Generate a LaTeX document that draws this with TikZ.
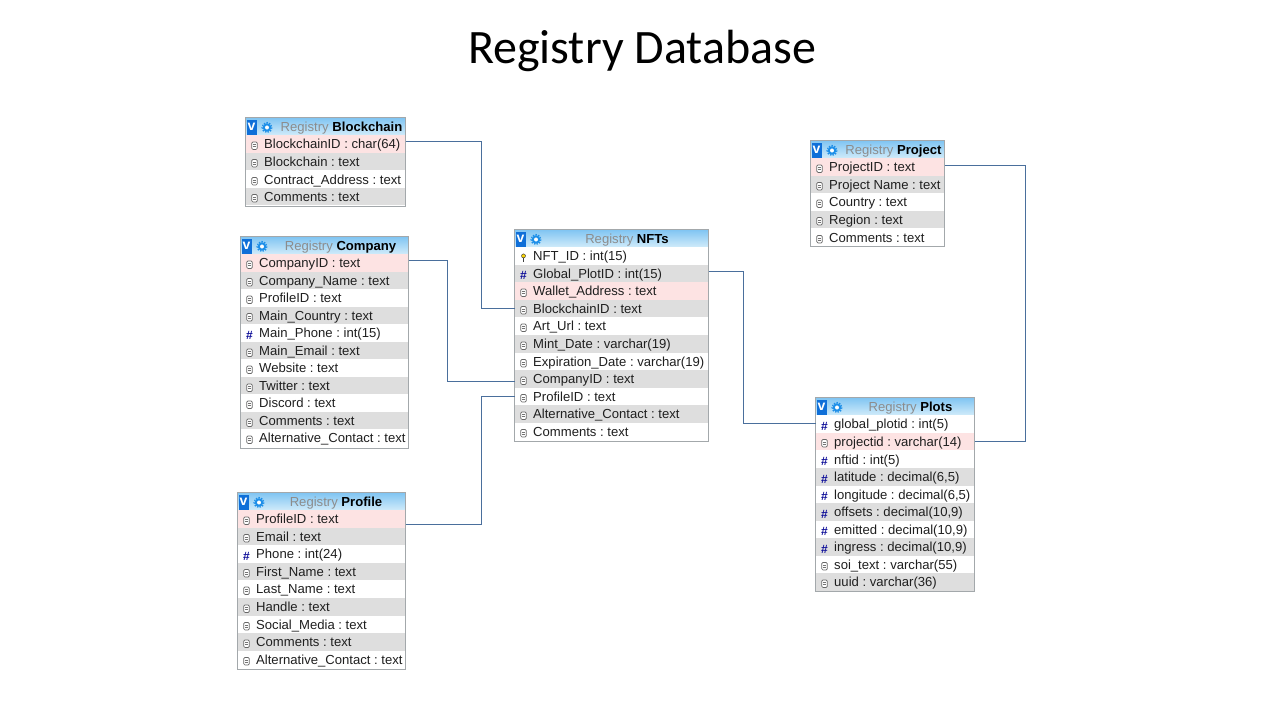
\documentclass[tikz,border=0pt]{standalone}
\usepackage{fontspec}
\setmainfont{Liberation Sans}
\newfontfamily\titlefont{Carlito}
\usetikzlibrary{calc}
\frenchspacing
\definecolor{rowgrey}{HTML}{DEDEDE}
\definecolor{rowpink}{HTML}{FDE3E3}
\definecolor{rowwhite}{HTML}{FFFFFF}
\definecolor{edgegrey}{HTML}{A3A8AB}
\definecolor{linkblue}{HTML}{4A6F9C}
\definecolor{headtop}{HTML}{7FC4F2}
\definecolor{headbot}{HTML}{D2ECFA}
\definecolor{iconblue}{HTML}{1E8FE8}
\definecolor{vblue}{HTML}{0F6FD8}
\definecolor{navyhash}{HTML}{10109A}
\tikzset{
 x=1pt,y=-1pt,
 rowtext/.style={anchor=base west,inner sep=0pt,font=\fontsize{13.1}{14}\selectfont,text=black!88},
 titletext/.style={anchor=base,inner sep=0pt,font=\fontsize{13.1}{14}\selectfont},
 link/.style={draw=linkblue,line width=1pt},
 frame/.style={draw=edgegrey,line width=1pt},
 tabletitle/.style={inner sep=0pt,font=\titlefont\fontsize{48}{56}\selectfont,text=black},
}
% icons, drawn at (#1)
\newcommand{\iconplain}[1]{\draw[black!60,line width=0.7pt,fill=white,rounded corners=1.2pt] ($(#1)+(-2.8,-3.5)$) rectangle ($(#1)+(2.8,3.9)$);
 \draw[black!55,line width=0.5pt] ($(#1)+(-1.4,-0.9)$)--($(#1)+(1.4,-0.9)$) ($(#1)+(-1.4,1.2)$)--($(#1)+(1.4,1.2)$);}
\newcommand{\iconhash}[1]{\node[inner sep=0pt,text=navyhash,font=\bfseries\fontsize{12}{12}\selectfont] at ($(#1)+(0,0.8)$) {\#};}
\newcommand{\iconkey}[1]{\draw[black!75,fill=yellow!75!orange,line width=0.5pt] ($(#1)+(0,-1.6)$) circle (2);
 \draw[black!75,line width=1pt] ($(#1)+(0,0)$)--($(#1)+(0,4)$);}
% \dbtable{id}{x1}{x2}{top}{bottom}{title x}{bold name}{rows}
% rows: number/y/icon/colour/text
\newcommand{\dbtable}[8]{
 \shade[top color=headtop,bottom color=headbot] (#2,#4) rectangle (#3,#4+18);
 \fill[vblue] (#2+1,#4+2) rectangle (#2+11,#4+17);
 \node[inner sep=0pt,text=white,font=\bfseries\fontsize{14}{14}\selectfont] at (#2+6,#4+9) {v};
 \draw[iconblue,line width=2pt,fill=white] (#2+21.5,#4+10) circle (3.2);
 \draw[iconblue,line width=1.2pt,dash pattern=on 1.4pt off 1.4pt] (#2+21.5,#4+10) circle (5);
 \node[titletext] (#1-title) at (#6,#4+14) {\textcolor{black!45}{Registry} \textbf{#7}};
 \foreach \rn/\ry/\ric/\rc/\rt in {#8} {
  \fill[\rc] (#2+0.5,\ry-8.8) rectangle (#3-0.5,\ry+8.8);
 }
 \foreach \rn/\ry/\ric/\rc/\rt in {#8} {
  \coordinate (#1-icon-\rn) at (#2+9,\ry+1.5);
  \csname icon\ric\endcsname{#1-icon-\rn}
  \node[rowtext] (#1-\rn) at (#2+18.5,\ry+4.7) {\rt};
  \coordinate (#1-w\rn) at (#2,\ry);
  \coordinate (#1-e\rn) at (#3,\ry);
 }
 \draw[frame] (#2,#4) rectangle (#3,#5);
}
\begin{document}
\begin{tikzpicture}
\useasboundingbox (0,0) rectangle (1280,720);
\fill[white] (0,0) rectangle (1280,720);
\node[tabletitle] (heading) at (642,51) {Registry Database};

\dbtable{bc}{245.5}{405.5}{117.5}{206.5}{341.5}{Blockchain}{
 1/144/plain/rowpink/{BlockchainID : char(64)},
 2/161.5/plain/rowgrey/{Blockchain : text},
 3/179.5/plain/rowwhite/{Contract\_Address : text},
 4/196.5/plain/rowgrey/{Comments : text}}

\dbtable{co}{240.5}{408.5}{236.5}{448.5}{340.5}{Company}{
 1/263/plain/rowpink/{CompanyID : text},
 2/280.5/plain/rowgrey/{Company\_Name : text},
 3/298/plain/rowwhite/{ProfileID : text},
 4/315.5/plain/rowgrey/{Main\_Country : text},
 5/333/hash/rowwhite/{Main\_Phone : int(15)},
 6/351/plain/rowgrey/{Main\_Email : text},
 7/368/plain/rowwhite/{Website : text},
 8/386/plain/rowgrey/{Twitter : text},
 9/403/plain/rowwhite/{Discord : text},
 10/421/plain/rowgrey/{Comments : text},
 11/438/plain/rowwhite/{Alternative\_Contact : text}}

\dbtable{pr}{237.5}{405.5}{492.5}{669.5}{336}{Profile}{
 1/519/plain/rowpink/{ProfileID : text},
 2/536.5/plain/rowgrey/{Email : text},
 3/554/hash/rowwhite/{Phone : int(24)},
 4/571.5/plain/rowgrey/{First\_Name : text},
 5/589/plain/rowwhite/{Last\_Name : text},
 6/607/plain/rowgrey/{Handle : text},
 7/624.5/plain/rowwhite/{Social\_Media : text},
 8/642/plain/rowgrey/{Comments : text},
 9/659.5/plain/rowwhite/{Alternative\_Contact : text}}

\dbtable{nf}{514.5}{708.5}{229.5}{441.5}{627}{NFTs}{
 1/256/key/rowwhite/{NFT\_ID : int(15)},
 2/273.5/hash/rowgrey/{Global\_PlotID : int(15)},
 3/291/plain/rowpink/{Wallet\_Address : text},
 4/308.5/plain/rowgrey/{BlockchainID : text},
 5/326/plain/rowwhite/{Art\_Url : text},
 6/344/plain/rowgrey/{Mint\_Date : varchar(19)},
 7/361.5/plain/rowwhite/{Expiration\_Date : varchar(19)},
 8/379/plain/rowgrey/{CompanyID : text},
 9/396.5/plain/rowwhite/{ProfileID : text},
 10/414/plain/rowgrey/{Alternative\_Contact : text},
 11/431.5/plain/rowwhite/{Comments : text}}

\dbtable{pj}{810.5}{944.5}{140.5}{246.5}{893.5}{Project}{
 1/167/plain/rowpink/{ProjectID : text},
 2/184.5/plain/rowgrey/{Project Name : text},
 3/202/plain/rowwhite/{Country : text},
 4/219.5/plain/rowgrey/{Region : text},
 5/237.5/plain/rowwhite/{Comments : text}}

\dbtable{pl}{815.5}{974.5}{397.5}{591.5}{910.5}{Plots}{
 1/424/hash/rowwhite/{global\_plotid : int(5)},
 2/441.5/plain/rowpink/{projectid : varchar(14)},
 3/459.5/hash/rowwhite/{nftid : int(5)},
 4/477/hash/rowgrey/{latitude : decimal(6,5)},
 5/494.5/hash/rowwhite/{longitude : decimal(6,5)},
 6/512/hash/rowgrey/{offsets : decimal(10,9)},
 7/529.5/hash/rowwhite/{emitted : decimal(10,9)},
 8/547/hash/rowgrey/{ingress : decimal(10,9)},
 9/564.5/plain/rowwhite/{soi\_text : varchar(55)},
 10/582/plain/rowgrey/{uuid : varchar(36)}}

\draw[link] ($(bc-e1)+(0,-2.5)$) -| (481.5,308.5) -- (nf-w4);
\draw[link] ($(co-e1)+(0,-2.5)$) -| (447.5,381.5) -- ($(nf-w8)+(0,2.5)$);
\draw[link] ($(pr-e1)+(0,5.5)$) -| (481.5,396.5) -- (nf-w9);
\draw[link] ($(nf-e2)+(0,-2)$) -| (743.5,423.5) -- ($(pl-w1)+(0,-0.5)$);
\draw[link] (pl-e2) -| (1025.5,165.5) -- ($(pj-e1)+(0,-1.5)$);
\end{tikzpicture}
\end{document}
